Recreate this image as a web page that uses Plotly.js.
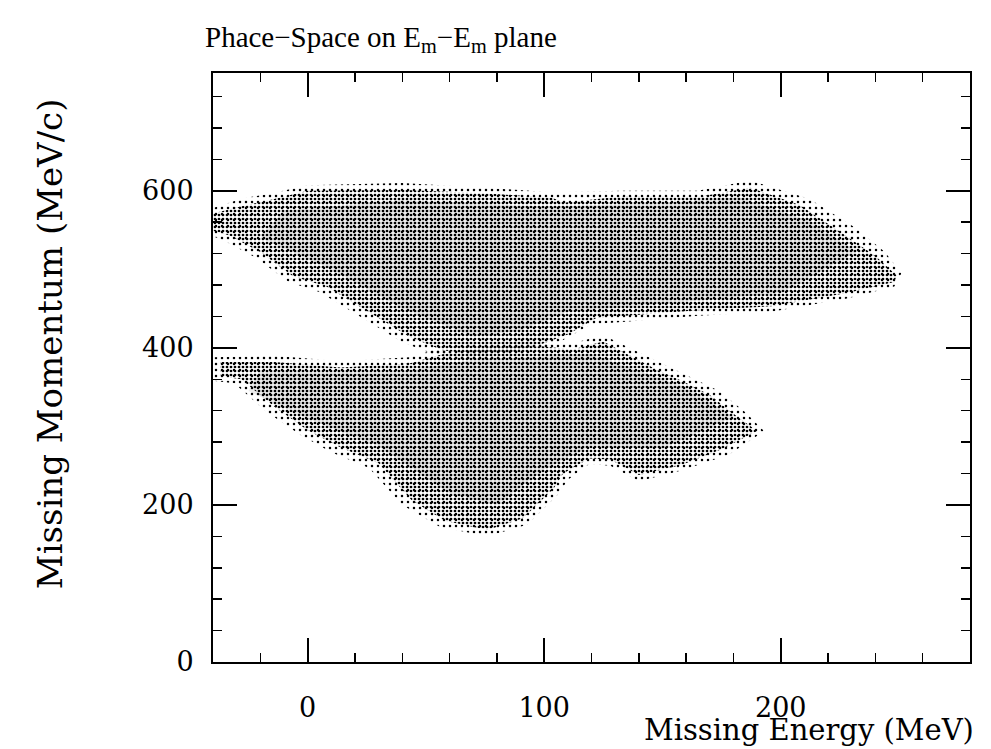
<!DOCTYPE html>
<html>
<head>
<meta charset="utf-8">
<script src="https://cdn.plot.ly/plotly-3.0.1.min.js"></script>
<style>html,body{margin:0;padding:0;background:#fff;}</style>
</head>
<body>
<div id="chart" style="width:991px;height:749px;"></div>
<script>
// Populated regions of the (missing energy [MeV], missing momentum [MeV/c]) plane.
// Each band is given as three nested outlines: sparse outer edge, main body, dense core.

// Upper band
const upperEdgeEm = [-40, -28, -15, 0, 40, 75, 103, 133, 165, 187, 212, 232, 244, 251,
                     248, 228, 196, 165, 137, 120, 108, 97, 85, 70, 55, 40, 26, 5, -8, -22, -35, -40];
const upperEdgePm = [578, 590, 597, 607, 610, 604, 598, 600, 600, 613, 590, 552, 522, 495,
                     478, 463, 446, 441, 434, 430, 410, 398, 387, 384, 390, 407, 433, 471, 484, 515, 536, 542];

const upperBodyEm = [-40, -27, -15, 0, 41, 75, 103, 109, 133, 165, 187, 208, 226, 240, 249,
                     248, 228, 196, 165, 137, 122, 110, 99, 85, 70, 57, 43, 29, 8, -6, -20, -33, -40];
const upperBodyPm = [571, 581, 589, 600, 601, 597, 591, 585, 593, 592, 604, 582, 546, 517, 492,
                     484, 470, 453, 448, 441, 438, 417, 405, 394, 392, 397, 414, 440, 478, 491, 522, 543, 549];

const upperCoreEm = [-10, 40, 100, 150, 182, 212, 232, 200, 150, 110, 90, 70, 40, 10, -20];
const upperCorePm = [575, 588, 580, 584, 592, 562, 522, 470, 456, 446, 422, 414, 450, 500, 540];

// Lower band
const lowerEdgeEm = [-40, -14, 14, 43, 57, 75, 99, 112, 125, 150, 162, 174, 185, 193,
                     178, 158, 140, 128, 119, 110, 106, 93, 76, 56, 40, 26, 10, -3, -18, -31, -40];
const lowerEdgePm = [388, 390, 383, 388, 400, 408, 410, 406, 416, 380, 363, 345, 318, 294,
                     264, 244, 230, 250, 252, 232, 214, 175, 160, 172, 200, 247, 267, 289, 320, 355, 358];

const lowerBodyEm = [-37, -14, 14, 43, 57, 75, 99, 112, 125, 147, 159, 170, 181, 190,
                     175, 158, 140, 128, 119, 108, 104, 91, 76, 58, 44, 30, 14, 0, -14, -28, -37];
const lowerBodyPm = [382, 382, 375, 380, 392, 400, 402, 398, 408, 373, 357, 340, 314, 294,
                     271, 251, 238, 258, 259, 240, 221, 183, 168, 180, 206, 253, 273, 295, 325, 360, 364];

const lowerCoreEm = [-20, 40, 70, 120, 160, 180, 150, 120, 100, 80, 60, 30, 0, -25];
const lowerCorePm = [370, 370, 385, 392, 350, 312, 272, 275, 245, 200, 215, 275, 310, 345];

const xTickVals = [0, 100, 200];
const yTickVals = [0, 200, 400, 600];

const serif = 'DejaVu Serif, Liberation Serif, serif';

// Dotted fill standing in for the event scatter inside an outline
function dotted(xs, ys, dotSpacing, solidity) {
  return {
    type: 'scatter', mode: 'lines',
    x: xs.concat([xs[0]]), y: ys.concat([ys[0]]),
    fill: 'toself', fillcolor: 'rgba(0,0,0,0)',
    line: {width: 0, color: 'rgba(0,0,0,0)'},
    fillpattern: {shape: '.', size: dotSpacing, solidity: solidity,
                  fgcolor: '#000', bgcolor: 'rgba(0,0,0,0)', fillmode: 'replace'},
    hoverinfo: 'skip', showlegend: false
  };
}

// Light shading marking where the scatter is densest
function shaded(xs, ys) {
  return {
    type: 'scatter', mode: 'lines',
    x: xs.concat([xs[0]]), y: ys.concat([ys[0]]),
    fill: 'toself', fillcolor: 'rgba(0,0,0,0.08)',
    line: {width: 0, color: 'rgba(0,0,0,0)'},
    hoverinfo: 'skip', showlegend: false
  };
}

const traces = [
  dotted(upperEdgeEm, upperEdgePm, 6, 0.14),
  dotted(lowerEdgeEm, lowerEdgePm, 6, 0.14),
  shaded(upperCoreEm, upperCorePm),
  shaded(lowerCoreEm, lowerCorePm),
  dotted(upperBodyEm, upperBodyPm, 4, 0.37),
  dotted(lowerBodyEm, lowerBodyPm, 4, 0.37)
];

function axisStyle(extra) {
  return Object.assign({
    showgrid: false, zeroline: false,
    showline: true, linecolor: '#000', linewidth: 2, mirror: 'allticks',
    ticks: 'inside', ticklen: 24, tickwidth: 2, tickcolor: '#000',
    tickfont: {family: serif, size: 27, color: '#000'}
  }, extra);
}

const layout = {
  width: 991, height: 749,
  margin: {l: 213, r: 21, t: 73, b: 87},
  paper_bgcolor: '#fff', plot_bgcolor: '#fff',
  showlegend: false,
  title: {
    text: 'Phace\u2212Space on E<sub>m</sub>\u2212E<sub>m</sub> plane',
    font: {family: 'Liberation Serif, DejaVu Serif, serif', size: 29, color: '#000'},
    xref: 'container', x: 205 / 991, xanchor: 'left',
    yref: 'container', y: 1 - 37 / 749, yanchor: 'middle'
  },
  xaxis: axisStyle({
    range: [-40, 280], tickmode: 'array', tickvals: xTickVals,
    minor: {dtick: 20, tick0: 0, ticks: 'inside', ticklen: 9, tickwidth: 1.5, tickcolor: '#000'},
    ticklabelstandoff: 21
  }),
  yaxis: axisStyle({
    range: [0, 750], tickmode: 'array', tickvals: yTickVals,
    minor: {dtick: 40, tick0: 0, ticks: 'inside', ticklen: 9, tickwidth: 1.5, tickcolor: '#000'},
    ticklabelstandoff: 12
  }),
  annotations: [
    {text: 'Missing Energy (MeV)', xref: 'paper', yref: 'paper', x: 1.008, y: -0.1475,
     xanchor: 'right', yanchor: 'bottom', showarrow: false,
     font: {family: serif, size: 29, color: '#000'}},
    {text: 'Missing Momentum (MeV/c)', xref: 'paper', yref: 'paper', x: -0.215, y: 0.54,
     xanchor: 'center', yanchor: 'middle', textangle: -90, showarrow: false,
     font: {family: serif, size: 34, color: '#000'}}
  ]
};

Plotly.newPlot('chart', traces, layout, {staticPlot: true, displayModeBar: false});
</script>
</body>
</html>
